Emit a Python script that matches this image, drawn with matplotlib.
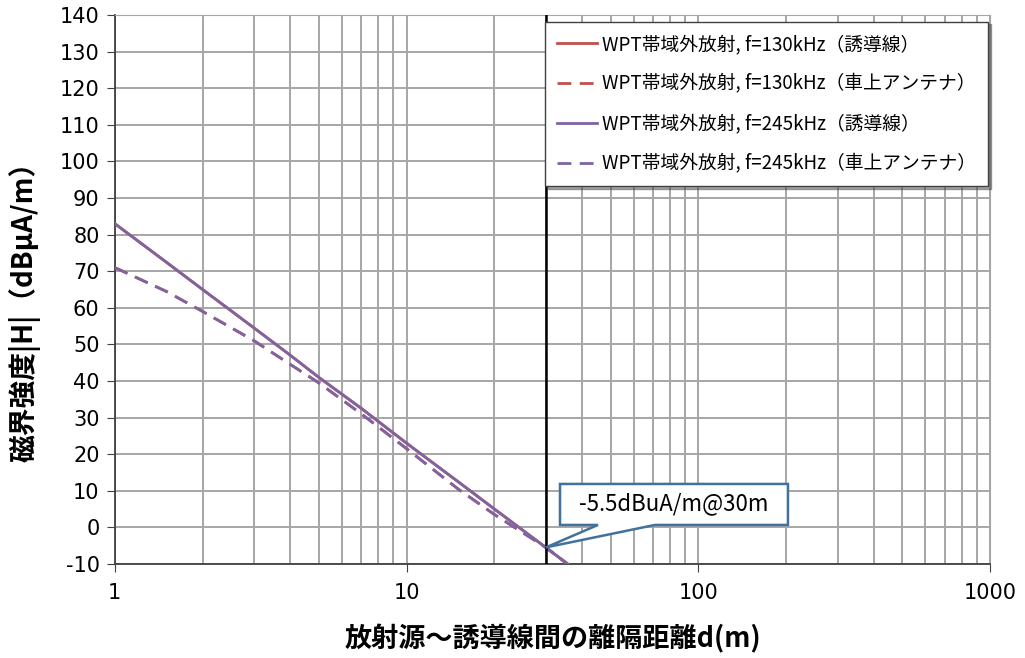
import matplotlib
matplotlib.use("Agg")
import matplotlib.pyplot as plt
from matplotlib.ticker import NullFormatter, LogLocator
from matplotlib.patches import Polygon

plt.rcParams['font.family'] = ['Noto Sans CJK JP', 'DejaVu Sans']
plt.rcParams['axes.unicode_minus'] = False

distance = [1, 1.5, 2, 3, 4, 5, 7, 10, 15, 20, 30, 36]
h_130_wire = [83, 72.5, 65, 54.5, 47, 41, 32.5, 23, 12.5, 5, -5.5, -10.3]
h_130_ant = [71, 64.5, 59, 51, 44.5, 39.5, 31, 21.5, 10.5, 3.5, -5.5, -10.3]
h_245_wire = [83, 72.5, 65, 54.5, 47, 41, 32.5, 23, 12.5, 5, -5.5, -10.3]
h_245_ant = [71, 64.5, 59, 51, 44.5, 39.5, 31, 21.5, 10.5, 3.5, -5.5, -10.3]
labels = ["WPT帯域外放射, f=130kHz（誘導線）",
          "WPT帯域外放射, f=130kHz（車上アンテナ）",
          "WPT帯域外放射, f=245kHz（誘導線）",
          "WPT帯域外放射, f=245kHz（車上アンテナ）"]
ref_d = 30
ref_h = -5.5
callout = "-5.5dBuA/m@30m"

fig = plt.figure(figsize=(10.25, 6.58), dpi=100)
ax = fig.add_axes([0.112, 0.143, 0.854, 0.834])

red = "#C0504D"
purple = "#8064A2"
dash = (0, (5, 3))
ax.plot(distance, h_130_wire, color=red, lw=2, label=labels[0], zorder=3)
ax.plot(distance, h_130_ant, color=red, lw=2, ls=dash, label=labels[1], zorder=3)
ax.plot(distance, h_245_wire, color=purple, lw=2, label=labels[2], zorder=4)
ax.plot(distance, h_245_ant, color=purple, lw=2, ls=dash, label=labels[3], zorder=4)

ax.axvline(ref_d, color="black", lw=1.8, zorder=5)

ax.set_xscale("log")
ax.set_xlim(1, 1000)
ax.set_ylim(-10, 140)
ax.set_yticks(range(-10, 141, 10))
ax.set_xticks([1, 10, 100, 1000])
ax.set_xticklabels(["1", "10", "100", "1000"])
ax.xaxis.set_minor_locator(LogLocator(base=10, subs=range(2, 10)))
ax.xaxis.set_minor_formatter(NullFormatter())
ax.tick_params(axis="x", which="minor", length=0)
ax.tick_params(axis="both", which="major", labelsize=15, length=6, color="#404040")
ax.tick_params(axis="y", pad=5)
ax.tick_params(axis="x", pad=8)
for lbl in ax.get_xticklabels() + ax.get_yticklabels():
    lbl.set_family("DejaVu Sans")

ax.grid(True, which="major", color="#A6A6A6", lw=1.4)
ax.grid(True, which="minor", axis="x", color="#A6A6A6", lw=1.4)
for s in ["top", "right"]:
    ax.spines[s].set_color("#A6A6A6")
for s in ["left", "bottom"]:
    ax.spines[s].set_color("#404040")
    ax.spines[s].set_linewidth(1.3)

ax.set_ylabel("磁界強度|H|（dBμA/m）", fontsize=20, fontweight="bold")
ax.yaxis.set_label_coords(-0.103, 0.472)
ax.set_xlabel("放射源～誘導線間の離隔距離d(m)", fontsize=19.5, fontweight="bold")
ax.xaxis.set_label_coords(0.50, -0.137)
ax.xaxis.label.set_va("center")
ax.yaxis.label.set_va("center")

leg = ax.legend(loc="upper right", bbox_to_anchor=(0.998, 0.988), borderaxespad=0,
                fontsize=13.5, frameon=True, fancybox=False, shadow=True,
                labelspacing=1.0, handlelength=2.1, handletextpad=0.3,
                borderpad=0.65, framealpha=1)
leg.get_frame().set_edgecolor("#404040")
leg.set_zorder(10)

# callout shape (box + pointer) in axes fraction coordinates
bx0, bx1, by0, by1 = 0.5086, 0.769, 0.0710, 0.1457
t0, t1 = 0.552, 0.617
tip = ax.transAxes.inverted().transform(ax.transData.transform((ref_d, ref_h)))
shape = Polygon([(bx0, by1), (bx1, by1), (bx1, by0), (t1, by0), tuple(tip),
                 (t0, by0), (bx0, by0)], closed=True, transform=ax.transAxes,
                fc="white", ec="#41719C", lw=1.8, zorder=12, clip_on=False,
                joinstyle="miter")
ax.add_patch(shape)
ax.text((bx0 + bx1) / 2, (by0 + by1) / 2 + 0.002, callout, transform=ax.transAxes,
        fontsize=16, ha="center", va="center", zorder=13)

fig.savefig("out.png", dpi=100)
